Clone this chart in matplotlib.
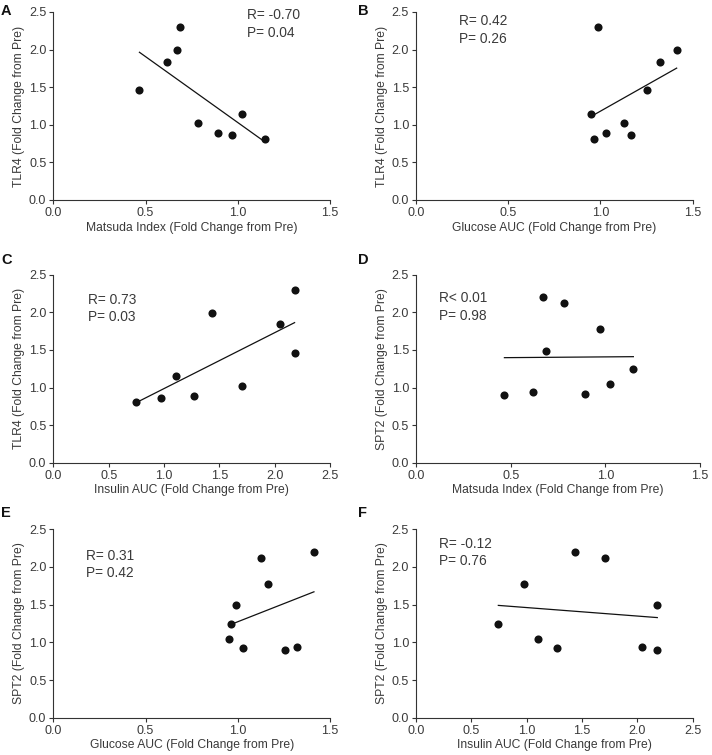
import numpy as np
import matplotlib
matplotlib.use("Agg")
import matplotlib.pyplot as plt

plt.rcParams['font.family'] = ['Liberation Sans', 'DejaVu Sans']

# Per-subject fold changes (9 subjects)
matsuda = [0.467, 0.618, 0.669, 0.689, 0.783, 0.893, 0.971, 1.023, 1.148]
glucose = [1.254, 1.323, 1.413, 0.989, 1.128, 1.028, 1.166, 0.951, 0.965]
insulin = [2.18, 2.045, 1.437, 2.18, 1.705, 1.274, 0.973, 1.105, 0.744]
tlr4 = [1.46, 1.84, 1.99, 2.30, 1.02, 0.89, 0.86, 1.15, 0.81]
spt2 = [0.90, 0.94, 2.20, 1.49, 2.12, 0.92, 1.78, 1.04, 1.24]

panel_letters = ['A', 'B', 'C', 'D', 'E', 'F']
stats_text = ['R= -0.70\nP= 0.04', 'R= 0.42\nP= 0.26', 'R= 0.73\nP= 0.03',
              'R< 0.01\nP= 0.98', 'R= 0.31\nP= 0.42', 'R= -0.12\nP= 0.76']
xlabels = ['Matsuda Index (Fold Change from Pre)', 'Glucose AUC (Fold Change from Pre)',
           'Insulin AUC (Fold Change from Pre)', 'Matsuda Index (Fold Change from Pre)',
           'Glucose AUC (Fold Change from Pre)', 'Insulin AUC (Fold Change from Pre)']
ylabels = ['TLR4 (Fold Change from Pre)'] * 3 + ['SPT2 (Fold Change from Pre)'] * 3
xdata = [matsuda, glucose, insulin, matsuda, glucose, insulin]
ydata = [tlr4, tlr4, tlr4, spt2, spt2, spt2]
xmax = [1.5, 1.5, 2.5, 1.5, 1.5, 2.5]
text_pos = [(1.05, 2.55), (0.235, 2.47), (0.316, 2.26), (0.12, 2.28), (0.177, 2.24), (0.205, 2.40)]

W, H = 712, 755
# axes boxes in pixels: (x0, x1, ybottom, ytop)
boxes = [(53.3, 330, 200, 12), (416, 692.7, 200, 12),
         (53.3, 330, 462.7, 274.7), (416, 700, 462.7, 274.7),
         (53.3, 330, 717.7, 529.3), (416, 692.7, 717.7, 529.3)]
letter_pos = [(1, 4), (358, 4), (1, 253), (358, 253), (1, 506), (358, 506)]

txtc = '#3a3a3a'
fig = plt.figure(figsize=(W / 100, H / 100), dpi=100)
for i in range(6):
    x0, x1, yb, yt = boxes[i]
    ax = fig.add_axes([x0 / W, 1 - yb / H, (x1 - x0) / W, (yb - yt) / H])
    x = np.array(xdata[i]); y = np.array(ydata[i])
    ax.scatter(x, y, s=34, color='#111111', zorder=3, linewidths=0)
    k, b = np.polyfit(x, y, 1)
    xs = np.array([x.min(), x.max()])
    ax.plot(xs, k * xs + b, color='#111111', lw=0.9)
    ax.set_xlim(0, xmax[i]); ax.set_ylim(0, 2.5)
    ax.set_xticks(np.arange(0, xmax[i] + 0.01, 0.5))
    ax.set_yticks(np.arange(0, 2.51, 0.5))
    ax.xaxis.set_major_formatter(matplotlib.ticker.FormatStrFormatter('%.1f'))
    ax.yaxis.set_major_formatter(matplotlib.ticker.FormatStrFormatter('%.1f'))
    for s in ['top', 'right']:
        ax.spines[s].set_visible(False)
    for s in ['left', 'bottom']:
        ax.spines[s].set_color('#333333'); ax.spines[s].set_linewidth(0.8)
    ax.tick_params(direction='out', length=3, width=0.8, color='#333333',
                   labelsize=9, labelcolor=txtc, pad=2)
    ax.set_xlabel(xlabels[i], fontsize=8.7, color=txtc, labelpad=2)
    ax.set_ylabel(ylabels[i], fontsize=8.7, color=txtc, labelpad=3)
    ax.text(text_pos[i][0], text_pos[i][1], stats_text[i], fontsize=9.9, color=txtc,
            va='top', ha='left', linespacing=1.3)
    lx, ly = letter_pos[i]
    fig.text(lx / W, 1 - ly / H, panel_letters[i], fontsize=10.5, fontweight='bold',
             color='#111111', va='top', ha='left')

fig.savefig('out.png', dpi=100, facecolor='white')
